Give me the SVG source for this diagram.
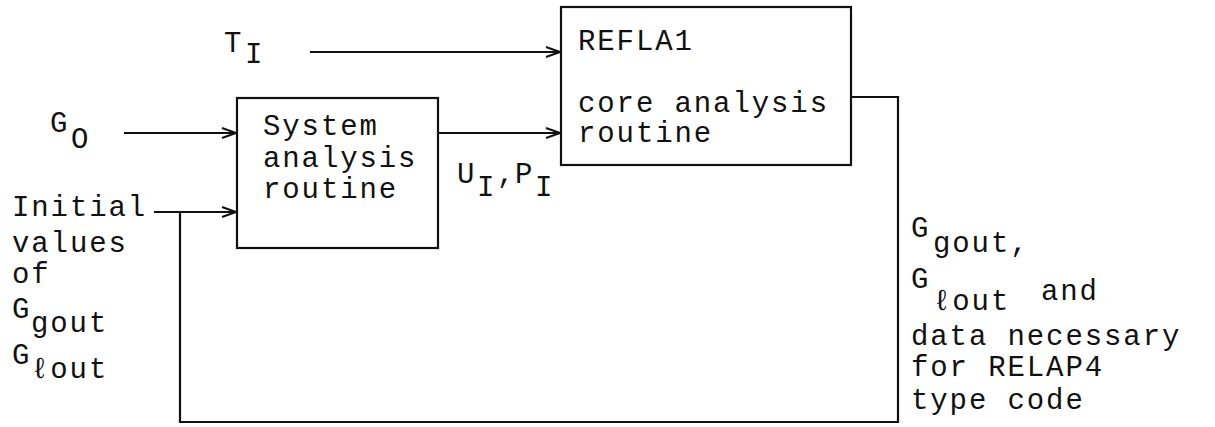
<svg xmlns="http://www.w3.org/2000/svg" width="1215" height="427" viewBox="0 0 1215 427">
  <style>
    .box { fill: #fff; stroke: #111; stroke-width: 2.2; }
    .wire { fill: none; stroke: #111; stroke-width: 2.2; }
    .t { font-family: "Liberation Mono", "DejaVu Sans Mono", monospace; font-size: 29px; letter-spacing: 1.9px; fill: #111; }
  </style>
  <defs>
    <marker id="arrow" viewBox="0 0 16 12" markerWidth="16" markerHeight="12" refX="15" refY="6" orient="auto" markerUnits="userSpaceOnUse">
      <path d="M1,1 L15,6 L1,11" fill="none" stroke="#111" stroke-width="2"/>
    </marker>
  </defs>
  <rect width="1215" height="427" fill="#fff"/>

  <!-- connectors -->
  <g id="connectors">
    <line class="wire" x1="310" y1="52" x2="560" y2="52" marker-end="url(#arrow)"/>
    <line class="wire" x1="124" y1="133" x2="236" y2="133" marker-end="url(#arrow)"/>
    <line class="wire" x1="438" y1="133" x2="560" y2="133" marker-end="url(#arrow)"/>
    <line class="wire" x1="154" y1="212" x2="236" y2="212" marker-end="url(#arrow)"/>
    <polyline class="wire" points="851,97 898,97 898,422 180,422 180,212"/>
  </g>

  <!-- system analysis routine -->
  <g id="system">
    <rect class="box" x="237" y="98" width="201" height="150"/>
    <text class="t" x="263" y="135">System</text>
    <text class="t" x="263" y="167">analysis</text>
    <text class="t" x="263" y="198">routine</text>
  </g>

  <!-- REFLA1 core analysis routine -->
  <g id="refla1">
    <rect class="box" x="561" y="7" width="290" height="158"/>
    <text class="t" x="578" y="50">REFLA1</text>
    <text class="t" x="578" y="112">core analysis</text>
    <text class="t" x="578" y="142">routine</text>
  </g>

  <!-- input labels -->
  <g id="label-ti">
    <text class="t" x="224" y="52">T<tspan x="245" y="63">I</tspan></text>
  </g>
  <g id="label-go">
    <text class="t" x="50" y="132">G<tspan x="71" y="148">O</tspan></text>
  </g>
  <g id="label-up">
    <text class="t" x="457" y="183">U<tspan x="477" y="196">I</tspan><tspan x="497" y="183">,</tspan><tspan x="515" y="183">P</tspan><tspan x="535" y="196">I</tspan></text>
  </g>
  <g id="label-initial">
    <text class="t" x="12" y="216">Initial</text>
    <text class="t" x="12" y="252">values</text>
    <text class="t" x="12" y="283">of</text>
    <text class="t" x="12" y="318">G<tspan x="31" y="332">gout</tspan></text>
    <text class="t" x="12" y="364">G<tspan x="31" y="378">ℓout</tspan></text>
  </g>

  <!-- output labels -->
  <g id="label-output">
    <text class="t" x="911" y="237">G<tspan x="933" y="252">gout,</tspan></text>
    <text class="t" x="911" y="288">G<tspan x="933" y="310">ℓout</tspan><tspan x="1041" y="300">and</tspan></text>
    <text class="t" x="911" y="345">data necessary</text>
    <text class="t" x="911" y="376">for RELAP4</text>
    <text class="t" x="911" y="409">type code</text>
  </g>
</svg>
